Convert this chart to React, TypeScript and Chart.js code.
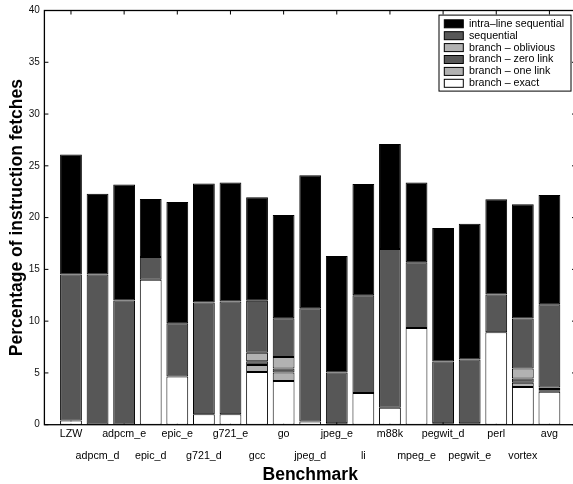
import { useEffect, useRef } from "react";
import { Chart, registerables } from "chart.js";

Chart.register(...registerables);

const FONT = "'Liberation Sans', Arial, Helvetica, sans-serif";

const categories = [
  "LZW", "adpcm_d", "adpcm_e", "epic_d", "epic_e", "g721_d", "g721_e", "gcc", "go", "jpeg_d",
  "jpeg_e", "li", "m88k", "mpeg_e", "pegwit_d", "pegwit_e", "perl", "vortex", "avg",
];

// stacked segment heights (percentage points), bottom to top
const branchExact = [0.4, 0, 0, 14.0, 4.65, 1.0, 1.0, 5.1, 4.23, 0.3, 0.15, 3.05, 1.63, 9.33, 0.15, 0.15, 8.94, 3.65, 3.17];
const branchOneLink = [0, 0, 0, 0, 0, 0, 0, 0.67, 0.81, 0, 0, 0, 0, 0, 0, 0, 0, 0.39, 0.15];
const branchZeroLink = [0, 0, 0, 0, 0, 0, 0, 0.35, 0.38, 0, 0, 0, 0, 0, 0, 0, 0, 0.42, 0.12];
const branchOblivious = [0, 0, 0, 0, 0, 0, 0, 0.84, 1.12, 0, 0, 0, 0, 0, 0, 0, 0, 0.96, 0.15];
const sequential = [14.1, 14.5, 12.0, 2.2, 5.15, 10.8, 10.9, 5.0, 3.75, 10.95, 4.9, 9.45, 15.33, 6.37, 5.95, 6.15, 3.63, 4.84, 8.04];
const intraLine = [11.6, 7.8, 11.2, 5.6, 11.7, 11.5, 11.5, 10.0, 9.97, 12.85, 11.25, 10.75, 10.14, 7.7, 12.9, 13.1, 9.2, 11.03, 10.55];

const yTickValues = [0, 5, 10, 15, 20, 25, 30, 35, 40];

const seriesLabels = [
  "branch \u2013 exact",
  "branch \u2013 one link",
  "branch \u2013 zero link",
  "branch \u2013 oblivious",
  "sequential",
  "intra\u2013line sequential",
];
const seriesColors = ["#ffffff", "#b2b2b2", "#575757", "#b2b2b2", "#575757", "#000000"];
const seriesValues = [branchExact, branchOneLink, branchZeroLink, branchOblivious, sequential, intraLine];

const framePlugin = {
  id: "frame",
  beforeDatasetsDraw(chart: any) {
    const { ctx, chartArea: a, scales } = chart;
    ctx.save();
    ctx.strokeStyle = "#000";
    ctx.lineWidth = 1;
    ctx.beginPath();
    for (const v of yTickValues) {
      const y = scales.y.getPixelForValue(v);
      ctx.moveTo(a.left, y);
      ctx.lineTo(a.left + 4, y);
      ctx.moveTo(a.right - 4, y);
      ctx.lineTo(a.right, y);
    }
    categories.forEach((_c, i) => {
      if (i % 2 === 0) {
        const x = scales.x.getPixelForValue(i + 1);
        ctx.moveTo(x, a.top);
        ctx.lineTo(x, a.top + 4);
        ctx.moveTo(x, a.bottom);
        ctx.lineTo(x, a.bottom - 4);
      }
    });
    ctx.stroke();
    ctx.restore();
  },
  afterDatasetsDraw(chart: any) {
    const { ctx, chartArea: a } = chart;
    ctx.save();
    ctx.strokeStyle = "#000";
    ctx.lineWidth = 1.3;
    ctx.strokeRect(a.left, a.top, a.right - a.left, a.bottom - a.top);
    ctx.restore();
  },
};

const legendPlugin = {
  id: "boxLegend",
  afterDraw(chart: any) {
    const { ctx, chartArea: a } = chart;
    const x0 = a.right - 137;
    const y0 = a.top + 4.6;
    const w = 132;
    const h = 76;
    ctx.save();
    ctx.fillStyle = "#fff";
    ctx.fillRect(x0, y0, w, h);
    ctx.strokeStyle = "#000";
    ctx.lineWidth = 1;
    ctx.strokeRect(x0, y0, w, h);
    ctx.font = `10.7px ${FONT}`;
    ctx.textBaseline = "middle";
    ctx.textAlign = "left";
    const ds = [...chart.data.datasets].reverse();
    ds.forEach((d: any, k: number) => {
      const cy = y0 + 8.7 + k * 11.9;
      ctx.fillStyle = d.backgroundColor;
      ctx.fillRect(x0 + 5.3, cy - 4, 19, 8);
      ctx.strokeStyle = "#000";
      ctx.strokeRect(x0 + 5.3, cy - 4, 19, 8);
      ctx.fillStyle = "#000";
      ctx.fillText(d.label, x0 + 30, cy);
    });
    ctx.restore();
  },
};

export default function App() {
  const ref = useRef<HTMLCanvasElement>(null);

  useEffect(() => {
    if (!ref.current) return;
    Chart.defaults.font.family = FONT;
    const datasets = seriesValues.map((vals, s) => ({
      label: seriesLabels[s],
      data: categories.map((_c, i) => ({ x: i + 1, y: vals[i] })),
      backgroundColor: seriesColors[s],
      borderColor: "#000",
      borderWidth: 1,
      borderSkipped: false as const,
      barPercentage: 0.82,
      categoryPercentage: 1,
    }));
    const chart = new Chart(ref.current, {
      type: "bar",
      data: { datasets },
      options: {
        animation: false,
        responsive: false,
        devicePixelRatio: 1,
        layout: { padding: { left: 0, top: 8.7, right: 24, bottom: 0 } },
        plugins: {
          legend: { display: false },
          tooltip: { enabled: false },
        },
        scales: {
          x: {
            type: "linear",
            stacked: true,
            offset: false,
            min: 0,
            max: 20,
            grid: { display: false, drawTicks: false, tickLength: 0, offset: false },
            border: { display: false },
            afterFit: (scale: any) => {
              scale.height = 59.3;
            },
            ticks: {
              stepSize: 1,
              maxTicksLimit: 100,
              autoSkip: false,
              maxRotation: 0,
              minRotation: 0,
              padding: -1,
              color: "#000",
              font: { size: 10.7, lineHeight: "21.4px" },
              callback: (value: any) => {
                const i = Math.round(Number(value)) - 1;
                if (i < 0 || i >= categories.length) return "";
                return i % 2 === 0 ? categories[i] : ["", categories[i]];
              },
            },
            title: {
              display: true,
              text: "Benchmark",
              color: "#000",
              font: { size: 17.5, weight: "bold", lineHeight: 1 },
              padding: { top: 0, bottom: 0 },
            },
          },
          y: {
            stacked: true,
            min: 0,
            max: 40,
            grid: { display: false, drawTicks: false, tickLength: 0 },
            border: { display: false },
            afterFit: (scale: any) => {
              scale.width = 44.4;
            },
            ticks: {
              stepSize: 5,
              padding: 4.5,
              color: "#111",
              font: { size: 10 },
            },
            title: {
              display: true,
              text: "Percentage of instruction fetches",
              color: "#000",
              font: { size: 17.5, weight: "bold", lineHeight: 1 },
              padding: { top: 8, bottom: 0 },
            },
          },
        },
      },
      plugins: [framePlugin, legendPlugin],
    });
    return () => chart.destroy();
  }, []);

  return (
    <div
      style={{
        position: "absolute",
        left: 0,
        top: 0,
        width: 573,
        height: 484,
        overflow: "hidden",
        background: "#fff",
      }}
    >
      <canvas ref={ref} width={600} height={484} style={{ display: "block", width: 600, height: 484 }} />
    </div>
  );
}
